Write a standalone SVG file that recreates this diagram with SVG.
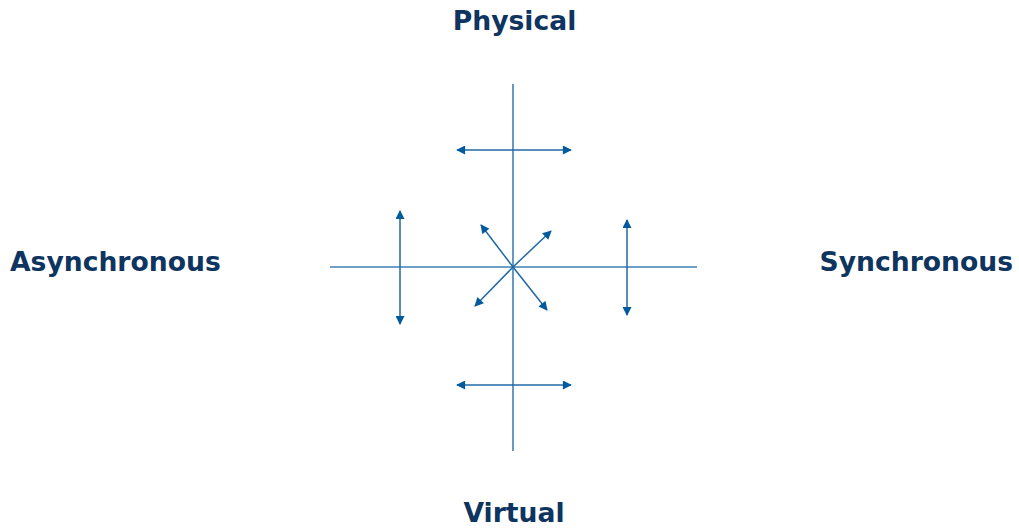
<svg xmlns="http://www.w3.org/2000/svg" width="1019" height="530" viewBox="0 0 1019 530">
<style>
.lbl{font-family:"DejaVu Sans",Verdana,sans-serif;font-weight:bold;font-size:26.6px;fill:#0e3460}
.ax{stroke:#3f7fb5;stroke-width:1.6;fill:none}
.ar{stroke:#1f68a6;stroke-width:1.5;fill:none;marker-start:url(#ah);marker-end:url(#ah)}
</style>
<defs>
<marker id="ah" viewBox="0 0 10 10" refX="9" refY="5" markerWidth="10" markerHeight="9" orient="auto-start-reverse" markerUnits="userSpaceOnUse">
<path d="M0,0 L10,5 L0,10 z" fill="#005a9c"/>
</marker>
</defs>
<g id="connectors">
<line class="ax" x1="513" y1="84" x2="513" y2="451"/>
<line class="ax" x1="330" y1="267" x2="697" y2="267"/>
<line class="ar" x1="457" y1="150" x2="571" y2="150"/>
<line class="ar" x1="457" y1="385" x2="571" y2="385"/>
<line class="ar" x1="400" y1="211" x2="400" y2="324"/>
<line class="ar" x1="627" y1="220" x2="627" y2="315"/>
<line class="ar" x1="513" y1="267" x2="481" y2="225" style="marker-start:none"/>
<line class="ar" x1="513" y1="267" x2="551" y2="231" style="marker-start:none"/>
<line class="ar" x1="513" y1="267" x2="475" y2="306" style="marker-start:none"/>
<line class="ar" x1="513" y1="267" x2="547" y2="310" style="marker-start:none"/>
</g>
<g id="physical"><text class="lbl" x="514.5" y="30" text-anchor="middle">Physical</text></g>
<g id="virtual"><text class="lbl" x="514" y="522" text-anchor="middle">Virtual</text></g>
<g id="asynchronous"><text class="lbl" x="10" y="271">Asynchronous</text></g>
<g id="synchronous"><text class="lbl" x="1013" y="271" text-anchor="end">Synchronous</text></g>
</svg>
